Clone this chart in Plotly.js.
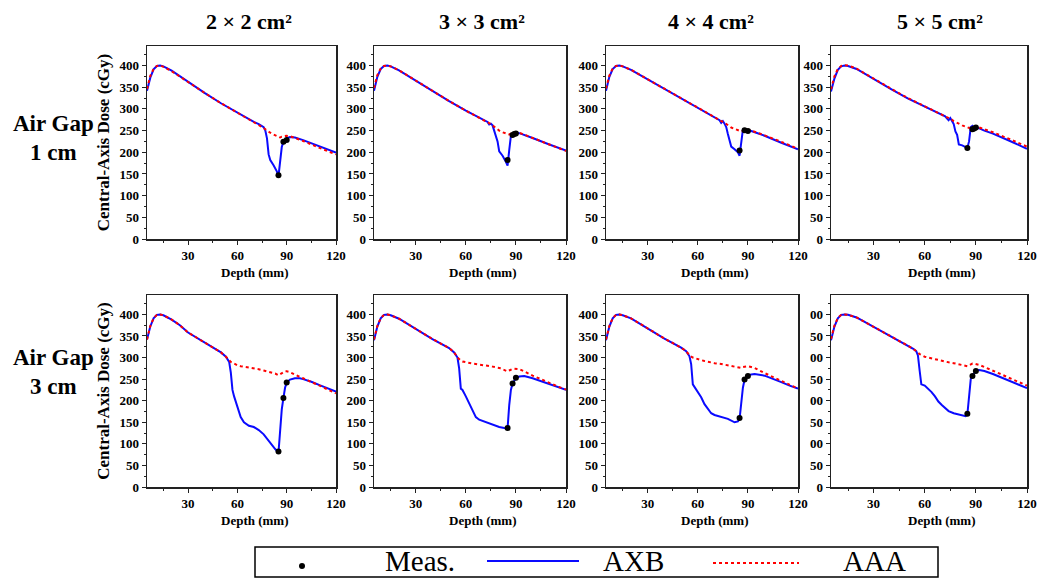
<!DOCTYPE html>
<html>
<head>
<meta charset="utf-8">
<script src="https://cdn.plot.ly/plotly-3.0.1.min.js"></script>
<style>html,body{margin:0;padding:0;background:#fff;}#chart{width:1037px;height:578px;}</style>
</head>
<body>
<div id="chart"></div>
<script>
// ---------------- DATA ----------------
const fieldSizes = ["2 × 2 cm²", "3 × 3 cm²", "4 × 4 cm²", "5 × 5 cm²"];
const airGapLine1 = ["Air Gap", "Air Gap"];
const airGapLine2 = ["1 cm", "3 cm"];
const seriesNames = ["Meas.", "AXB", "AAA"];
const xTitle = "Depth (mm)";
const yTitle = "Central-Axis Dose (cGy)";
const yTickVals = [0, 50, 100, 150, 200, 250, 300, 350, 400];
const yTickText = ["0", "50", "100", "150", "200", "250", "300", "350", "400"];
const yTickTextCut = ["0", "50", "00", "50", "00", "50", "00", "50", "00"];
const xTickVals = [30, 60, 90, 120];

// Air gap 1 cm, 2x2
const depth_g1_f2 = [5,7,9,11,13,15,20,25,30,40,50,60,70,73,75,76,77,78,79,80,82,84,85,86,87,88,89,90,92,95,100,110,120];
const axb_g1_f2   = [342,372,391,399,400,398,388,375,361,337,313,291,270,265,259,258,250,232,195,182,170,156,145,175,212,224,229,232,235,234,228,214,199];
const aaa_g1_f2   = [346,376,392,399,400,397,387,374,361,337,313,291,270,264,258,256,253,250,247,245,241,237,235,234,236,237,238,238,237,233,226,210,195];
const measX_g1_f2 = [85, 88, 90];
const measY_g1_f2 = [147, 224, 228];

// Air gap 1 cm, 3x3
const depth_g1_f3 = [5,7,9,11,13,15,20,25,30,40,50,60,70,73,74,75,76,77,78,79,80,82,84,85,86,87,88,90,92,95,100,110,120];
const axb_g1_f3   = [342,374,392,399,400,398,389,377,365,341,318,296,276,270,264,266,262,250,235,225,202,192,178,169,205,238,240,245,244,240,233,218,204];
const aaa_g1_f3   = [348,378,393,399,400,398,389,377,365,341,318,296,276,270,268,265,262,259,255,252,250,246,243,241,241,243,244,246,245,240,233,218,203];
const measX_g1_f3 = [85, 88, 89, 90];
const measY_g1_f3 = [182, 240, 242, 243];

// Air gap 1 cm, 4x4
const depth_g1_f4 = [5,7,9,11,13,15,20,25,30,40,50,60,70,73,74,75,76,77,78,79,80,82,84,85,86,87,88,90,92,95,100,110,120];
const axb_g1_f4   = [342,374,392,399,400,398,390,379,368,345,323,302,281,274,268,272,266,258,242,230,213,207,200,192,225,252,252,251,249,245,238,222,207];
const aaa_g1_f4   = [347,377,393,399,400,398,390,379,368,345,323,302,281,274,272,270,268,265,262,259,257,254,251,250,248,249,250,252,250,246,239,224,208];
const measX_g1_f4 = [85, 88, 90];
const measY_g1_f4 = [204, 251, 249];

// Air gap 1 cm, 5x5
const depth_g1_f5 = [5,7,9,11,13,15,20,25,30,40,50,60,70,72,73,74,75,76,77,78,79,80,82,84,85,86,87,88,89,90,92,95,100,110,120];
const axb_g1_f5   = [340,370,390,398,400,399,392,380,369,346,324,305,286,283,278,274,279,272,265,248,240,218,216,212,210,225,258,261,256,257,255,250,243,226,208];
const aaa_g1_f5   = [345,375,392,399,401,400,393,382,370,347,325,306,287,284,282,280,277,275,272,270,267,265,262,259,257,256,257,258,259,259,257,253,246,230,213];
const measX_g1_f5 = [85, 88, 89, 90];
const measY_g1_f5 = [210, 253, 255, 257];

// Air gap 3 cm, 2x2
const depth_g3_f2 = [5,7,9,11,13,15,20,25,30,40,50,53,55,56,57,58,60,62,64,67,70,73,76,80,83,85,86,87,88,89,90,92,95,98,100,105,110,115,120];
const axb_g3_f2   = [342,372,391,399,400,398,388,375,358,335,312,302,290,265,225,210,185,162,150,142,139,132,122,102,88,80,130,180,206,230,242,249,252,252,250,244,236,228,221];
const aaa_g3_f2   = [342,373,391,399,400,398,388,375,358,335,312,302,293,290,288,286,282,280,279,277,275,273,270,266,263,259,262,264,266,268,268,266,260,255,252,244,235,226,217];
const measX_g3_f2 = [85, 88, 90];
const measY_g3_f2 = [82, 206, 242];

// Air gap 3 cm, 3x3
const depth_g3_f3 = [5,7,9,11,13,15,20,25,30,40,50,53,55,56,57,58,60,62,64,66,68,72,76,80,83,85,86,87,88,89,90,92,95,100,105,110,115,120];
const axb_g3_f3   = [340,372,391,399,400,398,390,378,365,343,322,312,300,275,228,225,210,193,175,162,156,150,144,139,137,136,190,225,240,248,252,256,257,252,245,238,232,225];
const aaa_g3_f3   = [342,373,391,399,400,398,390,378,365,343,322,312,300,296,293,291,289,287,286,285,284,281,279,276,272,268,270,272,274,274,274,273,268,258,250,241,233,226];
const measX_g3_f3 = [85, 88, 90];
const measY_g3_f3 = [137, 240, 253];

// Air gap 3 cm, 4x4
const depth_g3_f4 = [5,7,9,11,13,15,20,25,30,40,50,53,55,56,57,58,60,62,64,66,68,70,74,78,82,84,85,86,87,88,89,90,92,94,100,105,110,115,120];
const axb_g3_f4   = [340,372,391,399,400,398,391,379,367,344,323,315,303,285,238,232,222,208,192,180,171,167,163,158,150,152,158,200,230,249,255,258,261,262,258,251,243,235,228];
const aaa_g3_f4   = [342,373,391,399,400,398,391,379,367,344,323,315,305,302,300,299,296,294,292,290,289,287,285,282,278,276,275,276,278,279,280,280,278,276,264,255,245,236,228];
const measX_g3_f4 = [85, 88, 90];
const measY_g3_f4 = [160, 249, 257];

// Air gap 3 cm, 5x5
const depth_g3_f5 = [5,7,9,11,13,15,20,25,30,40,50,53,55,56,57,58,60,62,64,66,68,70,72,74,77,80,83,84,85,86,87,88,89,90,92,95,100,105,110,115,120];
const axb_g3_f5   = [340,372,391,399,400,399,393,382,370,348,328,321,315,305,270,238,235,228,220,210,198,190,183,176,171,168,164,164,168,220,250,258,265,269,271,269,262,254,245,237,229];
const aaa_g3_f5   = [343,374,392,399,400,399,393,382,370,348,328,321,315,311,308,306,302,300,298,297,295,293,291,289,287,285,282,281,280,282,284,286,286,285,283,278,270,261,252,243,235];
const measX_g3_f5 = [85, 88, 90];
const measY_g3_f5 = [170, 257, 269];

const panels = [
  {d: depth_g1_f2, axb: axb_g1_f2, aaa: aaa_g1_f2, mx: measX_g1_f2, my: measY_g1_f2},
  {d: depth_g1_f3, axb: axb_g1_f3, aaa: aaa_g1_f3, mx: measX_g1_f3, my: measY_g1_f3},
  {d: depth_g1_f4, axb: axb_g1_f4, aaa: aaa_g1_f4, mx: measX_g1_f4, my: measY_g1_f4},
  {d: depth_g1_f5, axb: axb_g1_f5, aaa: aaa_g1_f5, mx: measX_g1_f5, my: measY_g1_f5},
  {d: depth_g3_f2, axb: axb_g3_f2, aaa: aaa_g3_f2, mx: measX_g3_f2, my: measY_g3_f2},
  {d: depth_g3_f3, axb: axb_g3_f3, aaa: aaa_g3_f3, mx: measX_g3_f3, my: measY_g3_f3},
  {d: depth_g3_f4, axb: axb_g3_f4, aaa: aaa_g3_f4, mx: measX_g3_f4, my: measY_g3_f4},
  {d: depth_g3_f5, axb: axb_g3_f5, aaa: aaa_g3_f5, mx: measX_g3_f5, my: measY_g3_f5}
];

// ---------------- LAYOUT ----------------
const W = 1037, H = 578;
const px = v => v / W;
const py = v => 1 - v / H;
const colPx = [[147, 336], [374, 566], [606, 798], [831, 1027]];
const rowPx = [[46, 239], [295, 487]];
const SERIF = "Liberation Serif";
const BLUE = "#0a0aff", RED = "#ff0000";

const traces = [];
const layout = {
  width: W, height: H,
  margin: {l: 0, r: 0, t: 0, b: 0},
  paper_bgcolor: "#fff", plot_bgcolor: "#fff",
  showlegend: false,
  font: {family: SERIF, color: "#000"},
  annotations: [], shapes: []
};

panels.forEach((p, i) => {
  const r = Math.floor(i / 4), c = i % 4;
  const n = i + 1;
  const xa = n === 1 ? "x" : "x" + n;
  const ya = n === 1 ? "y" : "y" + n;
  traces.push({x: p.d, y: p.axb, xaxis: xa, yaxis: ya, type: "scatter", mode: "lines",
    name: seriesNames[1], line: {color: BLUE, width: 2}});
  traces.push({x: p.d, y: p.aaa, xaxis: xa, yaxis: ya, type: "scatter", mode: "lines",
    name: seriesNames[2], line: {color: RED, width: 2, dash: "dot"}});
  traces.push({x: p.mx, y: p.my, xaxis: xa, yaxis: ya, type: "scatter", mode: "markers",
    name: seriesNames[0], marker: {color: "#000", size: 6}});

  const axBase = {
    showline: true, linecolor: "#222", linewidth: 1.5, mirror: true,
    showgrid: false, zeroline: false, automargin: false,
    ticks: "outside", ticklen: 4, tickwidth: 1, tickcolor: "#222",
    tickfont: {family: SERIF, size: 13, color: "#000", weight: "bold"}
  };
  layout["xaxis" + (n === 1 ? "" : n)] = Object.assign({}, axBase, {
    domain: [px(colPx[c][0]), px(colPx[c][1])],
    anchor: ya, range: [5, 120], tickmode: "array", tickvals: xTickVals,
    minor: {ticks: "outside", ticklen: 2, dtick: 15, tick0: 0, tickcolor: "#222"}
  });
  const yax = Object.assign({}, axBase, {
    domain: [py(rowPx[r][1]), py(rowPx[r][0])],
    anchor: xa, range: [0, 445], tickmode: "array", tickvals: yTickVals,
    ticktext: (i === 7 ? yTickTextCut : yTickText),
    minor: {ticks: "outside", ticklen: 2, dtick: 25, tick0: 0, tickcolor: "#222"}
  });
  if (c === 0) {
    yax.title = {text: yTitle, standoff: 5, font: {family: SERIF, size: 17, color: "#000", weight: "bold"}};
  }
  layout["yaxis" + (n === 1 ? "" : n)] = yax;

  // x-axis title, slightly right of the panel centre as in the reference
  layout.annotations.push({
    xref: "paper", yref: "paper",
    x: px((colPx[c][0] + colPx[c][1]) / 2 + 13), y: py(rowPx[r][1] + 33),
    xanchor: "center", yanchor: "middle", showarrow: false,
    text: xTitle, font: {family: SERIF, size: 13, color: "#000", weight: "bold"}
  });
});

// column headers
const headerCx = [249, 482, 711, 940];
fieldSizes.forEach((t, c) => {
  layout.annotations.push({
    xref: "paper", yref: "paper", x: px(headerCx[c]), y: py(21),
    xanchor: "center", yanchor: "middle", showarrow: false,
    text: t,
    font: {family: SERIF, size: 22, color: "#000", weight: "bold"}
  });
});

// row labels (two separate lines)
const rowLabelCy = [137, 371];
rowLabelCy.forEach((cy, r) => {
  layout.annotations.push({
    xref: "paper", yref: "paper", x: px(53), y: py(cy - 14),
    xanchor: "center", yanchor: "middle", showarrow: false,
    text: airGapLine1[r], font: {family: SERIF, size: 23, color: "#000", weight: "bold"}
  });
  layout.annotations.push({
    xref: "paper", yref: "paper", x: px(53), y: py(cy + 15),
    xanchor: "center", yanchor: "middle", showarrow: false,
    text: airGapLine2[r], font: {family: SERIF, size: 23, color: "#000", weight: "bold"}
  });
});

// legend (manual)
layout.shapes.push({type: "rect", xref: "paper", yref: "paper",
  x0: px(255), x1: px(938), y0: py(577), y1: py(547),
  line: {color: "#000", width: 1.5}, fillcolor: "rgba(0,0,0,0)"});
layout.shapes.push({type: "circle", xref: "paper", yref: "paper",
  x0: px(299), x1: px(305), y0: py(569), y1: py(563),
  line: {color: "#000", width: 0}, fillcolor: "#000"});
layout.shapes.push({type: "line", xref: "paper", yref: "paper",
  x0: px(487), x1: px(579), y0: py(561), y1: py(561),
  line: {color: BLUE, width: 2}});
layout.shapes.push({type: "line", xref: "paper", yref: "paper",
  x0: px(713), x1: px(799), y0: py(563), y1: py(563),
  line: {color: RED, width: 2, dash: "dot"}});
const legendCx = [420, 633, 874];
seriesNames.forEach((t, k) => {
  layout.annotations.push({
    xref: "paper", yref: "paper", x: px(legendCx[k]), y: py(561),
    xanchor: "center", yanchor: "middle", showarrow: false,
    text: t,
    font: {family: SERIF, size: 29, color: "#000"}
  });
});

Plotly.newPlot("chart", traces, layout, {staticPlot: true, displayModeBar: false});
</script>
</body>
</html>
